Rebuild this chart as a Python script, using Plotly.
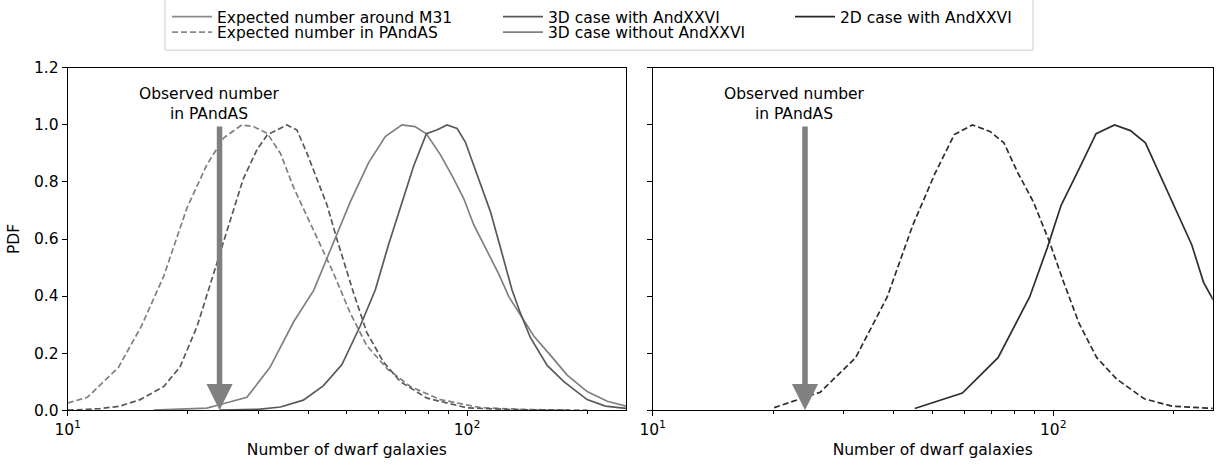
import numpy as np
import plotly.graph_objects as go

# ---------------- data ----------------
# Left panel: 3D case with AndXXVI
with3d_m31_x = [24, 28, 30, 34.1, 38.9, 43.7, 48.6, 54.0, 58.9, 63.6, 68.7, 73.5, 79.1, 84.2, 89.1,
                94.4, 99.0, 103.9, 114.4, 121.2, 129.6, 136.0, 144.1, 158.7, 174.7, 199.8, 222, 250]
with3d_m31_y = [0.0, 0.001, 0.003, 0.011, 0.035, 0.086, 0.16, 0.295, 0.421, 0.581, 0.73, 0.856, 0.969,
                0.983, 1.0, 0.988, 0.94, 0.856, 0.696, 0.57, 0.421, 0.34, 0.254, 0.157, 0.10, 0.037, 0.014, 0.006]
with3d_pandas_x = [10, 12, 13.5, 15.2, 17.4, 19.1, 21.1, 23.2, 25.5, 27.5, 29.8, 31.6, 35.4, 37.5,
                   39.7, 42.1, 44.6, 47.2, 52.0, 56.1, 61.8, 68.1, 79.4, 100, 130, 180]
with3d_pandas_y = [0.0, 0.005, 0.014, 0.037, 0.083, 0.151, 0.295, 0.478, 0.661, 0.81, 0.914, 0.965,
                   1.0, 0.982, 0.902, 0.81, 0.719, 0.6, 0.41, 0.272, 0.168, 0.10, 0.042, 0.008, 0.002, 0.0]

# Left panel: 3D case without AndXXVI
without3d_m31_x = [16.4, 19.9, 22.3, 24.1, 28.1, 32.1, 36.8, 41.3, 45.5, 51.0, 56.7, 62.4, 68.7, 74.1,
                   79.1, 85.7, 91.7, 98.1, 103.9, 111.1, 120.0, 127.2, 136.0, 146.9, 161.8, 178.1,
                   199.8, 224.4, 250]
without3d_m31_y = [0.0, 0.003, 0.007, 0.02, 0.045, 0.15, 0.31, 0.42, 0.56, 0.73, 0.868, 0.959, 1.0,
                   0.994, 0.969, 0.896, 0.822, 0.742, 0.65, 0.57, 0.478, 0.398, 0.335, 0.26, 0.192,
                   0.123, 0.065, 0.031, 0.014]
without3d_pandas_x = [10, 11.2, 13.4, 15.3, 17.4, 19.9, 22.3, 24.6, 27.3, 29.2, 31.6, 34.1, 36.8, 41.3,
                      46.3, 51.0, 56.1, 63.1, 72.1, 85.7, 108, 140, 200]
without3d_pandas_y = [0.025, 0.045, 0.15, 0.295, 0.47, 0.71, 0.86, 0.955, 1.0, 0.994, 0.97, 0.90, 0.78,
                      0.63, 0.48, 0.34, 0.226, 0.145, 0.083, 0.037, 0.009, 0.002, 0.0]

# Right panel: 2D case with AndXXVI
d2_m31_x = [45.1, 59.3, 72.8, 87.3, 96.6, 104.6, 115.9, 127.9, 142.2, 155.8, 169.8, 195.5, 221.6, 237.2, 251]
d2_m31_y = [0.006, 0.06, 0.184, 0.397, 0.569, 0.718, 0.845, 0.969, 1.0, 0.98, 0.937, 0.747, 0.58, 0.448, 0.385]
d2_pandas_x = [20.1, 26.2, 32.1, 38.5, 44.6, 50.6, 56.6, 62.8, 69.5, 75.3, 81.5, 89.2, 97.7, 105.8,
               115.9, 128.4, 143.9, 168.7, 197.8, 251]
d2_pandas_y = [0.009, 0.063, 0.184, 0.397, 0.649, 0.828, 0.966, 1.0, 0.977, 0.937, 0.833, 0.73, 0.592,
               0.454, 0.305, 0.184, 0.109, 0.040, 0.014, 0.006]

observed_pandas = 24
annotation_text = "Observed number<br>in PAndAS"
x_limits = [10, 250]
y_tick_vals = [0.0, 0.2, 0.4, 0.6, 0.8, 1.0, 1.2]
x_tick_vals = [10, 100]
x_tick_text = ["10<sup>1</sup>", "10<sup>2</sup>"]
x_minor_vals = [20, 30, 40, 50, 60, 70, 80, 90, 200]

legend_names = ["Expected number around M31", "Expected number in PAndAS",
                "3D case with AndXXVI", "3D case without AndXXVI", "2D case with AndXXVI"]
legend_colors = ["#8a8a8a", "#8a8a8a", "#595959", "#808080", "#262626"]
legend_dashes = ["solid", "dash", "solid", "solid", "solid"]

# ---------------- styles ----------------
C_WITH = "#595959"
C_WITHOUT = "#808080"
C_2D = "#2e2e2e"
DASH = "6px,3px"
LW = 1.7
FONT = "DejaVu Sans"
FS = 15.5
W, H = 1218, 470

fig = go.Figure()

def add_curve(x, y, color, dash, xaxis, yaxis):
    fig.add_trace(go.Scatter(x=x, y=y, mode="lines", showlegend=False, hoverinfo="skip",
                             line=dict(color=color, width=LW, dash=dash),
                             xaxis=xaxis, yaxis=yaxis))

add_curve(without3d_pandas_x, without3d_pandas_y, C_WITHOUT, DASH, "x", "y")
add_curve(with3d_pandas_x, with3d_pandas_y, C_WITH, DASH, "x", "y")
add_curve(without3d_m31_x, without3d_m31_y, C_WITHOUT, "solid", "x", "y")
add_curve(with3d_m31_x, with3d_m31_y, C_WITH, "solid", "x", "y")
add_curve(d2_pandas_x, d2_pandas_y, C_2D, DASH, "x2", "y2")
add_curve(d2_m31_x, d2_m31_y, C_2D, "solid", "x2", "y2")

# legend entries (one legend per entry so that the grid can be placed like the reference)
legend_ids = ["legend", "legend2", "legend3", "legend4", "legend5"]
for name, color, dash, lg in zip(legend_names, legend_colors, legend_dashes, legend_ids):
    fig.add_trace(go.Scatter(x=[None], y=[None], mode="lines", name=name, legend=lg,
                             line=dict(color=color, width=LW, dash=DASH if dash == "dash" else "solid"),
                             xaxis="x", yaxis="y"))

# ---------------- axes ----------------
xl = [67.7 / W, 626 / W]
xr = [652.7 / W, 1212.7 / W]
yd = [1 - 409 / H, 1 - 60 / H]

common_x = dict(type="log", range=[np.log10(x_limits[0]), np.log10(x_limits[1])],
                tickmode="array", tickvals=x_tick_vals, ticktext=x_tick_text,
                ticks="outside", ticklen=5, tickwidth=1, tickcolor="black",
                minor=dict(tickmode="array", tickvals=x_minor_vals, ticks="outside",
                           ticklen=3, tickwidth=1, tickcolor="black"),
                showline=True, linecolor="black", linewidth=1, mirror=True,
                showgrid=False, zeroline=False, automargin=False,
                tickfont=dict(family=FONT, size=FS, color="black"),
                title=dict(text="Number of dwarf galaxies", standoff=6,
                           font=dict(family=FONT, size=FS, color="black")))
common_y = dict(range=[0, 1.2], tickmode="array", tickvals=y_tick_vals, tickformat=".1f",
                ticks="outside", ticklen=5, tickwidth=1, tickcolor="black",
                showline=True, linecolor="black", linewidth=1, mirror=True,
                showgrid=False, zeroline=False, automargin=False,
                tickfont=dict(family=FONT, size=FS, color="black"))

fig.update_layout(
    width=W, height=H,
    margin=dict(l=0, r=0, t=0, b=0),
    paper_bgcolor="white", plot_bgcolor="white",
    font=dict(family=FONT, size=FS, color="black"),
    xaxis=dict(common_x, domain=xl, anchor="y"),
    yaxis=dict(common_y, domain=yd, anchor="x",
               title=dict(text="PDF", standoff=10, font=dict(family=FONT, size=FS, color="black"))),
    xaxis2=dict(common_x, domain=xr, anchor="y2"),
    yaxis2=dict(common_y, domain=yd, anchor="x2", matches="y", showticklabels=False),
)

# legend grid: (left x of entry, row centre y) in pixels
legend_pos = [(167, 8), (167, 24), (498, 8), (498, 24), (790, 8)]
for lg, (px, py) in zip(legend_ids, legend_pos):
    fig.update_layout({lg: dict(orientation="v", xanchor="left", yanchor="middle",
                                x=px / W, y=1 - py / H,
                                bgcolor="rgba(0,0,0,0)", borderwidth=0,
                                font=dict(family=FONT, size=FS, color="black"),
                                itemwidth=40)})

# legend frame
fig.add_shape(type="rect", xref="paper", yref="paper",
              x0=165 / W, x1=1033 / W, y0=1 - 42 / H, y1=1.05,
              line=dict(color="#cccccc", width=1), fillcolor="rgba(0,0,0,0)")

# observed-number arrows and labels
for xa, ya in (("x", "y"), ("x2", "y2")):
    fig.add_annotation(x=np.log10(observed_pandas), y=0, ax=np.log10(observed_pandas), ay=1.0,
                       xref=xa, yref=ya, axref=xa, ayref=ya, text="", showarrow=True,
                       arrowhead=2, arrowsize=0.95, arrowwidth=5.5, arrowcolor="#808080",
                       standoff=0, startstandoff=0)
    fig.add_annotation(x=np.log10(observed_pandas) - 0.025, y=1.073, xref=xa, yref=ya,
                       text=annotation_text, showarrow=False,
                       font=dict(family=FONT, size=FS, color="black"), align="center")

fig.write_html("out.html", config={"displayModeBar": False, "staticPlot": True},
               post_script="document.body.style.margin='0px';")
